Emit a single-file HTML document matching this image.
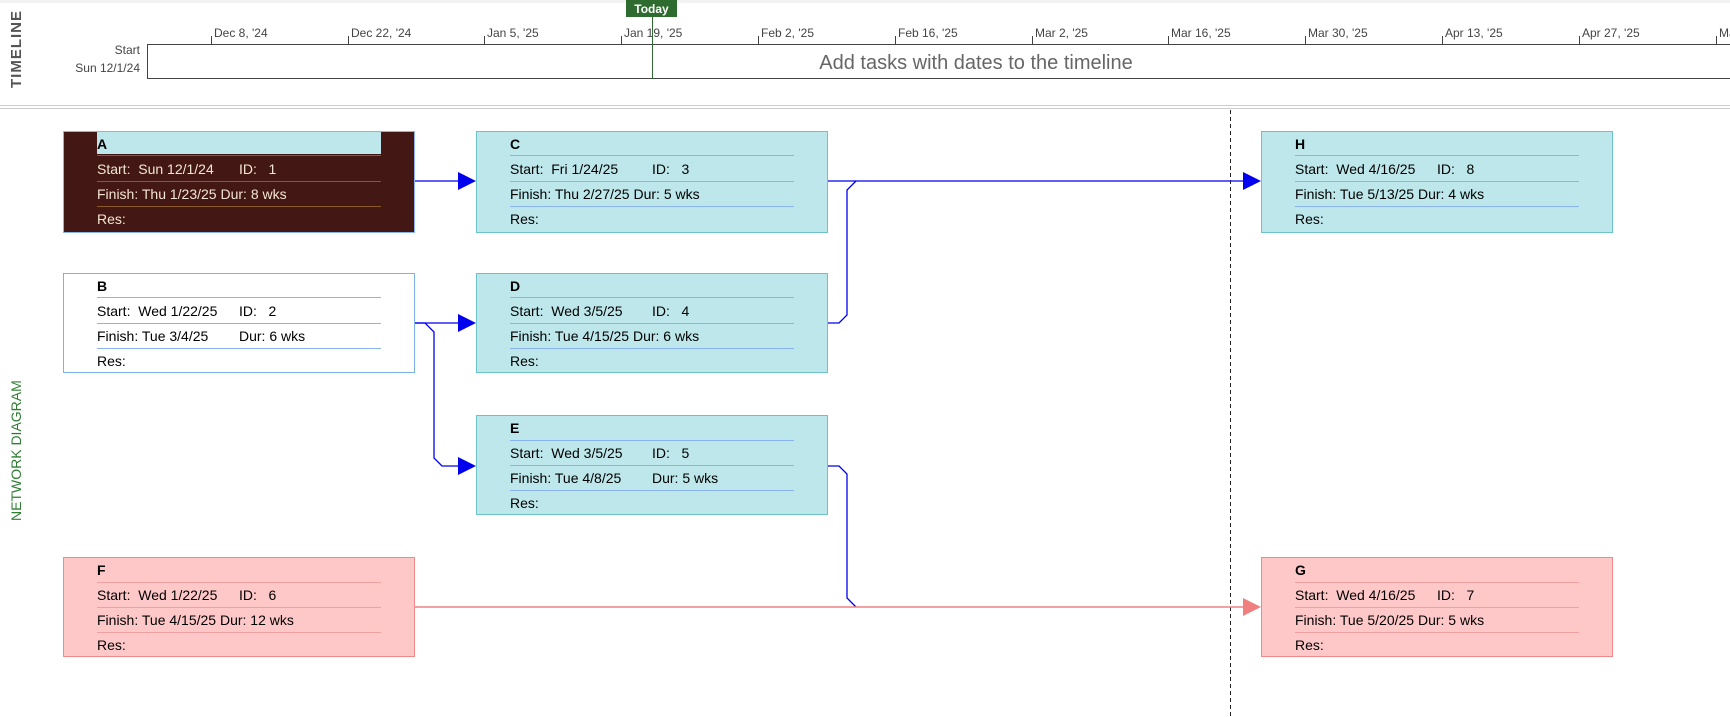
<!DOCTYPE html>
<html><head><meta charset="utf-8"><style>
html,body{margin:0;padding:0;background:#fff;width:1730px;height:717px;overflow:hidden;font-family:"Liberation Sans",sans-serif}
text{white-space:pre}
</style></head><body>
<svg width="1730" height="717" xmlns="http://www.w3.org/2000/svg" font-family="Liberation Sans, sans-serif">
<rect x="0" y="0" width="1730" height="3" fill="#f2f2f2"/>
<text transform="translate(21,88) rotate(-90)" font-size="15" font-weight="bold" fill="#555" letter-spacing="1">TIMELINE</text>
<g font-size="12" fill="#444">
<text x="140" y="54" text-anchor="end">Start</text>
<text x="140" y="72" text-anchor="end">Sun 12/1/24</text>
</g>
<line x1="147" y1="44.5" x2="1730" y2="44.5" stroke="#444" stroke-width="1"/>
<line x1="147" y1="78.5" x2="1730" y2="78.5" stroke="#444" stroke-width="1"/>
<line x1="147.5" y1="44" x2="147.5" y2="79" stroke="#444"/>
<g font-size="12" fill="#444" stroke="#444">
<line x1="211.5" y1="36" x2="211.5" y2="44"/><text x="214" y="37" stroke="none">Dec 8, '24</text>
<line x1="348.5" y1="36" x2="348.5" y2="44"/><text x="351" y="37" stroke="none">Dec 22, '24</text>
<line x1="484.5" y1="36" x2="484.5" y2="44"/><text x="487" y="37" stroke="none">Jan 5, '25</text>
<line x1="621.5" y1="36" x2="621.5" y2="44"/><text x="624" y="37" stroke="none">Jan 19, '25</text>
<line x1="758.5" y1="36" x2="758.5" y2="44"/><text x="761" y="37" stroke="none">Feb 2, '25</text>
<line x1="895.5" y1="36" x2="895.5" y2="44"/><text x="898" y="37" stroke="none">Feb 16, '25</text>
<line x1="1032.5" y1="36" x2="1032.5" y2="44"/><text x="1035" y="37" stroke="none">Mar 2, '25</text>
<line x1="1168.5" y1="36" x2="1168.5" y2="44"/><text x="1171" y="37" stroke="none">Mar 16, '25</text>
<line x1="1305.5" y1="36" x2="1305.5" y2="44"/><text x="1308" y="37" stroke="none">Mar 30, '25</text>
<line x1="1442.5" y1="36" x2="1442.5" y2="44"/><text x="1445" y="37" stroke="none">Apr 13, '25</text>
<line x1="1579.5" y1="36" x2="1579.5" y2="44"/><text x="1582" y="37" stroke="none">Apr 27, '25</text>
<line x1="1716.5" y1="36" x2="1716.5" y2="44"/><text x="1719" y="37" stroke="none">Ma</text>
</g>
<rect x="626" y="0" width="51" height="17" fill="#2e6b2e"/>
<text x="651.5" y="13" font-size="12" font-weight="bold" fill="#fff" text-anchor="middle">Today</text>
<line x1="652.5" y1="17" x2="652.5" y2="79" stroke="#2e6b2e"/>
<text x="976" y="69" font-size="20" fill="#666" text-anchor="middle">Add tasks with dates to the timeline</text>
<line x1="0" y1="105.5" x2="1730" y2="105.5" stroke="#ccc"/>
<line x1="0" y1="108.5" x2="1730" y2="108.5" stroke="#ccc"/>
<text transform="translate(21,521) rotate(-90)" font-size="14" fill="#2e7d32">NETWORK DIAGRAM</text>
<line x1="1230.5" y1="110" x2="1230.5" y2="717" stroke="#222" stroke-dasharray="4,3"/>

<g fill="none" stroke="#0000ee" stroke-width="1.3">
<line x1="414" y1="181" x2="460" y2="181"/>
<line x1="827" y1="181" x2="1245" y2="181"/>
<polyline points="827,323 839,323 847,315 847,190 856,181"/>
<line x1="414" y1="323" x2="460" y2="323"/>
<polyline points="414,323 425,323 434,332 434,458 442,466 460,466"/>
<polyline points="827,466 839,466 847,474 847,598 856,607"/>
</g>
<g fill="#0000ee">
<polygon points="458,172 476,181 458,190"/>
<polygon points="458,314 476,323 458,332"/>
<polygon points="458,457 476,466 458,475"/>
<polygon points="1243,172 1261,181 1243,190"/>
</g>
<line x1="414" y1="607" x2="1245" y2="607" stroke="#f08080" stroke-width="1.6"/>
<polygon points="1243,598 1261,607 1243,616" fill="#f08080"/>

<g font-size="14">
<rect x="63.5" y="131.5" width="351" height="101" fill="#431713" stroke="#8ab4f0"/>
<rect x="97" y="132" width="284" height="22" fill="#bde7ea"/>
<g stroke="#8a5a20"><line x1="97" y1="155.5" x2="381" y2="155.5"/><line x1="97" y1="181.5" x2="381" y2="181.5"/><line x1="97" y1="206.5" x2="381" y2="206.5"/></g>
<text x="97" y="149" font-weight="bold" fill="#000">A</text>
<g fill="#f3e6d6"><text x="97" y="174">Start:  Sun 12/1/24</text><text x="239" y="174">ID:   1</text>
<text x="97" y="199">Finish: Thu 1/23/25 Dur: 8 wks</text><text x="97" y="224">Res:</text></g>

<rect x="476.5" y="131.5" width="351" height="101" fill="#bde7ea" stroke="#6cc4c9"/>
<g stroke="#8ab4f0"><line x1="510" y1="155.5" x2="794" y2="155.5"/><line x1="510" y1="181.5" x2="794" y2="181.5"/><line x1="510" y1="206.5" x2="794" y2="206.5"/></g>
<text x="510" y="149" font-weight="bold">C</text>
<text x="510" y="174">Start:  Fri 1/24/25</text><text x="652" y="174">ID:   3</text>
<text x="510" y="199">Finish: Thu 2/27/25 Dur: 5 wks</text><text x="510" y="224">Res:</text>

<rect x="1261.5" y="131.5" width="351" height="101" fill="#bde7ea" stroke="#6cc4c9"/>
<g stroke="#8ab4f0"><line x1="1295" y1="155.5" x2="1579" y2="155.5"/><line x1="1295" y1="181.5" x2="1579" y2="181.5"/><line x1="1295" y1="206.5" x2="1579" y2="206.5"/></g>
<text x="1295" y="149" font-weight="bold">H</text>
<text x="1295" y="174">Start:  Wed 4/16/25</text><text x="1437" y="174">ID:   8</text>
<text x="1295" y="199">Finish: Tue 5/13/25 Dur: 4 wks</text><text x="1295" y="224">Res:</text>

<rect x="63.5" y="273.5" width="351" height="99" fill="#fff" stroke="#7ab4e6"/>
<g stroke="#8ab4f0"><line x1="97" y1="297.5" x2="381" y2="297.5"/><line x1="97" y1="323.5" x2="381" y2="323.5"/><line x1="97" y1="348.5" x2="381" y2="348.5"/></g>
<text x="97" y="291" font-weight="bold">B</text>
<text x="97" y="316">Start:  Wed 1/22/25</text><text x="239" y="316">ID:   2</text>
<text x="97" y="341">Finish: Tue 3/4/25</text><text x="239" y="341">Dur: 6 wks</text><text x="97" y="366">Res:</text>

<rect x="476.5" y="273.5" width="351" height="99" fill="#bde7ea" stroke="#6cc4c9"/>
<g stroke="#8ab4f0"><line x1="510" y1="297.5" x2="794" y2="297.5"/><line x1="510" y1="323.5" x2="794" y2="323.5"/><line x1="510" y1="348.5" x2="794" y2="348.5"/></g>
<text x="510" y="291" font-weight="bold">D</text>
<text x="510" y="316">Start:  Wed 3/5/25</text><text x="652" y="316">ID:   4</text>
<text x="510" y="341">Finish: Tue 4/15/25 Dur: 6 wks</text><text x="510" y="366">Res:</text>

<rect x="476.5" y="415.5" width="351" height="99" fill="#bde7ea" stroke="#6cc4c9"/>
<g stroke="#8ab4f0"><line x1="510" y1="440.5" x2="794" y2="440.5"/><line x1="510" y1="465.5" x2="794" y2="465.5"/><line x1="510" y1="490.5" x2="794" y2="490.5"/></g>
<text x="510" y="433" font-weight="bold">E</text>
<text x="510" y="458">Start:  Wed 3/5/25</text><text x="652" y="458">ID:   5</text>
<text x="510" y="483">Finish: Tue 4/8/25</text><text x="652" y="483">Dur: 5 wks</text><text x="510" y="508">Res:</text>

<rect x="63.5" y="557.5" width="351" height="99" fill="#ffc8c8" stroke="#f08a8a"/>
<g stroke="#f0a0a0"><line x1="97" y1="582.5" x2="381" y2="582.5"/><line x1="97" y1="607.5" x2="381" y2="607.5"/><line x1="97" y1="632.5" x2="381" y2="632.5"/></g>
<text x="97" y="575" font-weight="bold">F</text>
<text x="97" y="600">Start:  Wed 1/22/25</text><text x="239" y="600">ID:   6</text>
<text x="97" y="625">Finish: Tue 4/15/25 Dur: 12 wks</text><text x="97" y="650">Res:</text>

<rect x="1261.5" y="557.5" width="351" height="99" fill="#ffc8c8" stroke="#f08a8a"/>
<g stroke="#f0a0a0"><line x1="1295" y1="582.5" x2="1579" y2="582.5"/><line x1="1295" y1="607.5" x2="1579" y2="607.5"/><line x1="1295" y1="632.5" x2="1579" y2="632.5"/></g>
<text x="1295" y="575" font-weight="bold">G</text>
<text x="1295" y="600">Start:  Wed 4/16/25</text><text x="1437" y="600">ID:   7</text>
<text x="1295" y="625">Finish: Tue 5/20/25 Dur: 5 wks</text><text x="1295" y="650">Res:</text>
</g>
</svg>
</body></html>
